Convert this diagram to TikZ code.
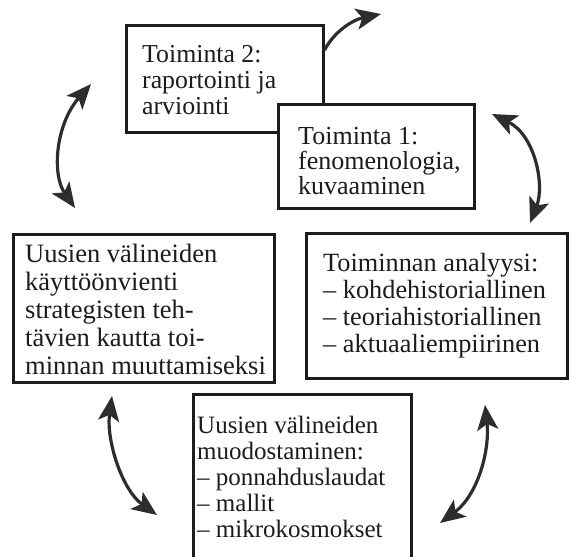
\documentclass[tikz,border=0pt]{standalone}
\usepackage{fontspec}
\setmainfont{Liberation Serif}
\usetikzlibrary{arrows.meta}
\definecolor{ink}{RGB}{28,28,28}
\definecolor{arrowink}{RGB}{45,45,45}
\begin{document}
\begin{tikzpicture}[x=1pt,y=-1pt,
  boxframe/.style={draw=ink, line width=2.6pt, fill=white, inner sep=0pt, anchor=north west},
  boxtext/.style={anchor=north west, inner sep=0pt, align=left, text=ink},
  cyc/.style={draw=arrowink, line width=3.2pt, {Stealth[length=25pt,width=21pt,inset=6pt]}-{Stealth[length=25pt,width=21pt,inset=6pt]}},
]
\useasboundingbox (0,0) rectangle (571,557);

% Toiminta 2
\node[boxframe, minimum width=197pt, minimum height=107pt] (t2) at (125,24) {};
\node[boxtext, font=\fontsize{25.8}{26}\selectfont] (t2text) at (142,45.3)
  {Toiminta 2:\\raportointi ja\\arviointi};
\coordinate (outend) at (381,14);
\draw[draw=arrowink, line width=3.2pt, -{Stealth[length=25pt,width=21pt,inset=6pt]}]
  ([yshift=-26pt]t2.north east) .. controls (334,32) and (352,20) .. (outend);

% Toiminta 1
\node[boxframe, minimum width=196pt, minimum height=104pt] (t1) at (277,103) {};
\node[boxtext, font=\fontsize{26}{25}\selectfont] (t1text) at (298,127.3)
  {Toiminta 1:\\fenomenologia,\\kuvaaminen};

% Left box
\node[boxframe, minimum width=261pt, minimum height=148pt] (lbox) at (12,233) {};
\node[boxtext, font=\fontsize{26.5}{28}\selectfont] (ltext) at (25,244)
  {Uusien välineiden\\käyttöönvienti\\strategisten teh-\\tävien kautta toi-\\minnan muuttamiseksi};

% Right box
\node[boxframe, minimum width=261pt, minimum height=145pt] (rbox) at (305,232) {};
\node[boxtext, font=\fontsize{26.3}{27}\selectfont] (rtext) at (323,253)
  {Toiminnan analyysi:\\– kohdehistoriallinen\\– teoriahistoriallinen\\– aktuaaliempiirinen};

% Bottom box
\node[boxframe, minimum width=218pt, minimum height=180pt] (bbox) at (192,393) {};
\node[boxtext, font=\fontsize{25}{26}\selectfont] (btext) at (197,416)
  {Uusien välineiden\\muodostaminen:\\– ponnahduslaudat\\– mallit\\– mikrokosmokset};

% cycle arrows
\coordinate (a1) at (91,84);   \coordinate (a2) at (75,208);
\coordinate (b1) at (492,114); \coordinate (b2) at (530,223);
\coordinate (c1) at (112,396); \coordinate (c2) at (157,515);
\coordinate (d1) at (485,405); \coordinate (d2) at (440,523);

\draw[cyc] (a1) .. controls (55,125) and (52,175) .. (a2);
\draw[cyc] (b1) .. controls (535,135) and (545,185) .. (b2);
\draw[cyc] (c1) .. controls (106,440) and (122,490) .. (c2);
\draw[cyc] (d1) .. controls (490,450) and (478,495) .. (d2);
\end{tikzpicture}
\end{document}
